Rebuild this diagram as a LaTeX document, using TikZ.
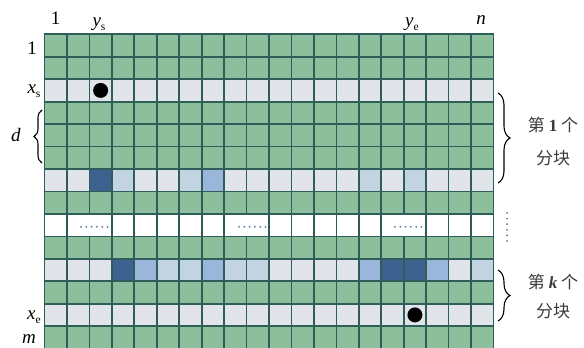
\documentclass[tikz,border=0pt]{standalone}
\usepackage{fontspec}
\setmainfont{Liberation Serif}
\newfontfamily\cjk{Noto Sans CJK SC}
\usetikzlibrary{decorations.pathreplacing,calc}
\definecolor{cgreen}{HTML}{8DBF9C}
\definecolor{cline}{HTML}{2F5D5A}
\definecolor{cgray}{HTML}{E1E5EA}
\definecolor{cdark}{HTML}{3D6290}
\definecolor{cmid}{HTML}{9AB6DA}
\definecolor{clight}{HTML}{C2D3E2}
\definecolor{cdots}{HTML}{4F7BA8}
\definecolor{ctext}{HTML}{3A3A3A}
\newcommand{\X}{44.5}
\newcommand{\Y}{34.3}
\newcommand{\W}{22.45}
\newcommand{\cellfill}[3]{\fill[#3] ({\X+(#2-1)*\W},{\Y+(#1-1)*\W}) rectangle ({\X+#2*\W},{\Y+#1*\W});}
\begin{document}
\begin{tikzpicture}[x=1pt,y=-1pt,
  gl/.style={draw=cline,line width=1.7pt},
  lab/.style={inner sep=0pt,font=\fontsize{19}{21}\selectfont},
  cjklab/.style={inner sep=0pt,text=ctext,font=\cjk\fontsize{17}{20}\selectfont},
  bracestyle/.style={decorate,decoration={brace,amplitude=#1},line width=1.1pt},
  hdot/.style={fill=cdots,circle,inner sep=0pt,minimum size=2pt},
  bigdot/.style={fill=black,circle,inner sep=0pt,minimum size=15pt}]
\useasboundingbox (0,0) rectangle (584,348);
% base fills
\fill[cgreen] (\X,\Y) rectangle ({\X+20*\W},{\Y+14*\W});
\foreach \r in {3,7,11,13}{\fill[cgray] (\X,{\Y+(\r-1)*\W}) rectangle ({\X+20*\W},{\Y+\r*\W});}
\fill[white] (\X,{\Y+8*\W}) rectangle ({\X+20*\W},{\Y+9*\W});
% row 7
\foreach \c/\k in {3/cdark,4/clight,7/clight,8/cmid,15/clight,17/clight}{\cellfill{7}{\c}{\k}}
% row 11
\foreach \c/\k in {4/cdark,5/cmid,6/clight,7/clight,8/cmid,9/clight,10/clight,15/cmid,16/cdark,17/cdark,18/cmid,20/clight}{\cellfill{11}{\c}{\k}}
% grid lines
\foreach \i in {0,...,20}{\draw[gl] ({\X+\i*\W},{\Y-0.85}) -- ({\X+\i*\W},360);}
\foreach \j in {0,...,14}{\draw[gl] ({\X-0.85},{\Y+\j*\W}) -- ({\X+20*\W+0.85},{\Y+\j*\W});}
% merged white cells in row 9
\foreach \i in {2,9,16}{\fill[white] ({\X+\i*\W-1.2},{\Y+8*\W+0.85}) rectangle ({\X+\i*\W+1.2},{\Y+9*\W-0.85});}
% horizontal dots
\foreach \s [count=\n] in {81,107.5,239,265.5,395,421.5}{\coordinate (hd\n) at (\s,226.8);}
\foreach \a/\b in {1/2,3/4,5/6}{\foreach \t in {0,0.2,0.4,0.6,0.8,1}{\node[hdot] at ($(hd\a)!\t!(hd\b)$) {};}}
% vertical dots
\coordinate (vd1) at (507,213);
\coordinate (vd2) at (507,241);
\foreach \t in {0,0.2,0.4,0.6,0.8,1}{\node[hdot] at ($(vd1)!\t!(vd2)$) {};}
% black dots
\node[bigdot] (ps) at ({\X+2.5*\W},{\Y+2.5*\W}) {};
\node[bigdot] (pe) at ({\X+16.5*\W},{\Y+12.5*\W}) {};
% top labels
\node[lab] (t1) at (55.5,18) {1};
\node[lab] (tys) at (99,24) {\textit{y}\raisebox{-0.5ex}{\fontsize{11.5}{12}\selectfont s}};
\node[lab] (tye) at (412,24) {\textit{y}\raisebox{-0.5ex}{\fontsize{11.5}{12}\selectfont e}};
\node[lab] (tn) at (481,20) {\textit{n}};
% left labels
\node[lab] (l1) at (32,48) {1};
\node[lab] (lxs) at (34,91) {\textit{x}\raisebox{-0.5ex}{\fontsize{11.5}{12}\selectfont s}};
\node[lab] (ld) at (16,135) {\textit{d}};
\node[lab] (lxe) at (34,317) {\textit{x}\raisebox{-0.5ex}{\fontsize{11.5}{12}\selectfont e}};
\node[lab] (lm) at (29,339) {\textit{m}};
% braces
\coordinate (bd1) at (42,163);
\coordinate (bd2) at (42,110);
\draw[bracestyle=8pt] (bd1) -- (bd2);
\coordinate (b1a) at (498,93);
\coordinate (b1b) at (498,183);
\draw[bracestyle=12pt] (b1a) -- (b1b);
\coordinate (bka) at (498,270);
\coordinate (bkb) at (498,321);
\draw[bracestyle=12pt] (bka) -- (bkb);
% right labels
\node[cjklab] (c1a) at (553,125) {第 {\rmfamily\bfseries 1} 个};
\node[cjklab] (c1b) at (553,158) {分块};
\node[cjklab] (cka) at (553,282) {第 {\rmfamily\bfseries\itshape k} 个};
\node[cjklab] (ckb) at (553,311) {分块};
\end{tikzpicture}
\end{document}
